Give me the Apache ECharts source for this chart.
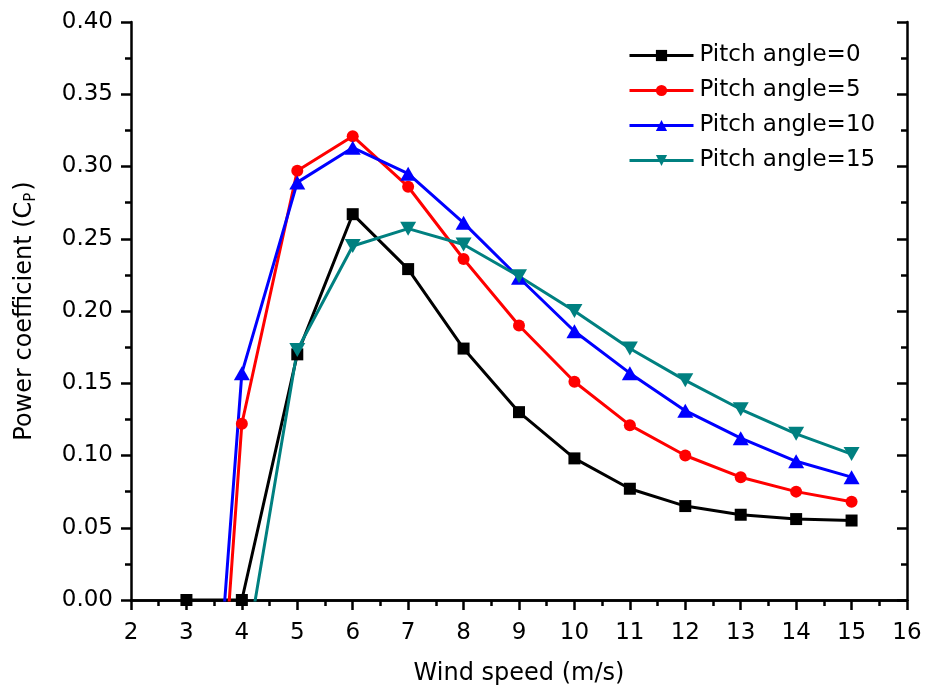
<!DOCTYPE html>
<html>
<head>
<meta charset="utf-8">
<script src="https://cdn.jsdelivr.net/npm/echarts@6/dist/echarts.min.js"></script>
<style>
  html, body { margin: 0; padding: 0; background: #fff; }
  #chart { width: 927px; height: 691px; }
</style>
</head>
<body>
<div id="chart"></div>
<script>
// Wind speed (m/s)
const windSpeed = [3, 4, 5, 6, 7, 8, 9, 10, 11, 12, 13, 14, 15];

// Power coefficient for each pitch angle
const pitch0  = [0, 0, 0.170, 0.267, 0.229, 0.174, 0.130, 0.098, 0.077, 0.065, 0.059, 0.056, 0.055];
const pitch5  = [-0.416, 0.122, 0.297, 0.321, 0.286, 0.236, 0.190, 0.151, 0.121, 0.100, 0.085, 0.075, 0.068];
const pitch10 = [-0.353, 0.157, 0.289, 0.313, 0.295, 0.261, 0.223, 0.186, 0.157, 0.131, 0.112, 0.096, 0.085];
const pitch15 = [null, -0.055, 0.173, 0.245, 0.257, 0.246, 0.224, 0.200, 0.174, 0.152, 0.132, 0.115, 0.101];

const seriesNames = ['Pitch angle=0', 'Pitch angle=5', 'Pitch angle=10', 'Pitch angle=15'];
const seriesColors = ['#000000', '#ff0000', '#0000ff', '#008080'];

const FONT = '"DejaVu Sans", Arial, sans-serif';

function pairs(ys) {
  return windSpeed.map((x, i) => [x, ys[i]]);
}

function lineSeries(name, color, ys, symbol, size, rotate) {
  return {
    name: name,
    type: 'line',
    data: pairs(ys),
    clip: true,
    connectNulls: false,
    symbol: symbol,
    symbolSize: size,
    symbolRotate: rotate || 0,
    showAllSymbol: true,
    lineStyle: { color: color, width: 3 },
    itemStyle: { color: color },
    emphasis: { disabled: true },
    animation: false
  };
}

const axisLine = { show: true, lineStyle: { color: '#000', width: 2.5 } };
const majorTick = (inside) => ({ show: true, inside: inside, length: 10, lineStyle: { color: '#000', width: 2.5 } });
const minorTick = { show: true, splitNumber: 2, length: 6, lineStyle: { color: '#000', width: 2.5 } };

const chart = echarts.init(document.getElementById('chart'), null, { renderer: 'canvas' });

chart.setOption({
  backgroundColor: '#ffffff',
  animation: false,
  grid: { left: 131, right: 20, top: 22, bottom: 91, containLabel: false },
  legend: {
    data: seriesNames,
    orient: 'vertical',
    left: 623,
    top: 39,
    itemWidth: 64,
    itemHeight: 14,
    itemGap: 12,
    lineStyle: { width: 3 },
    textStyle: { fontFamily: FONT, fontSize: 23, color: '#000', padding: [0, 0, 0, 1] },
    symbolRotate: 'inherit'
  },
  xAxis: [
    {
      type: 'value',
      position: 'bottom',
      min: 2, max: 16, interval: 1,
      name: 'Wind speed (m/s)',
      nameLocation: 'middle',
      nameGap: 62,
      nameTextStyle: { fontFamily: FONT, fontSize: 24, color: '#000' },
      axisLine: axisLine,
      axisTick: majorTick(false),
      minorTick: minorTick,
      axisLabel: { fontFamily: FONT, fontSize: 23, color: '#000', margin: 22 },
      splitLine: { show: false }
    },
    {
      type: 'value',
      position: 'top',
      min: 2, max: 16, interval: 1,
      axisLine: axisLine,
      axisTick: majorTick(true),
      minorTick: minorTick,
      axisLabel: { show: false },
      splitLine: { show: false }
    }
  ],
  yAxis: [
    {
      type: 'value',
      position: 'left',
      min: 0, max: 0.4, interval: 0.05,
      name: 'Power coefficient (C{sub|P})',
      nameLocation: 'middle',
      nameGap: 92,
      nameTextStyle: {
        fontFamily: FONT, fontSize: 24, color: '#000',
        rich: {
          sub: { fontFamily: FONT, fontSize: 15, color: '#000', padding: [14, 2, 0, 0] }
        }
      },
      axisLine: axisLine,
      axisTick: majorTick(false),
      minorTick: minorTick,
      axisLabel: {
        fontFamily: FONT, fontSize: 23, color: '#000', margin: 18,
        formatter: v => v.toFixed(2)
      },
      splitLine: { show: false }
    },
    {
      type: 'value',
      position: 'right',
      min: 0, max: 0.4, interval: 0.05,
      axisLine: axisLine,
      axisTick: majorTick(true),
      minorTick: minorTick,
      axisLabel: { show: false },
      splitLine: { show: false }
    }
  ],
  series: [
    lineSeries(seriesNames[0], seriesColors[0], pitch0, 'rect', 12),
    lineSeries(seriesNames[1], seriesColors[1], pitch5, 'circle', 12),
    lineSeries(seriesNames[2], seriesColors[2], pitch10, 'triangle', [16, 14]),
    lineSeries(seriesNames[3], seriesColors[3], pitch15, 'triangle', [16, 14], 180)
  ]
});
</script>
</body>
</html>
